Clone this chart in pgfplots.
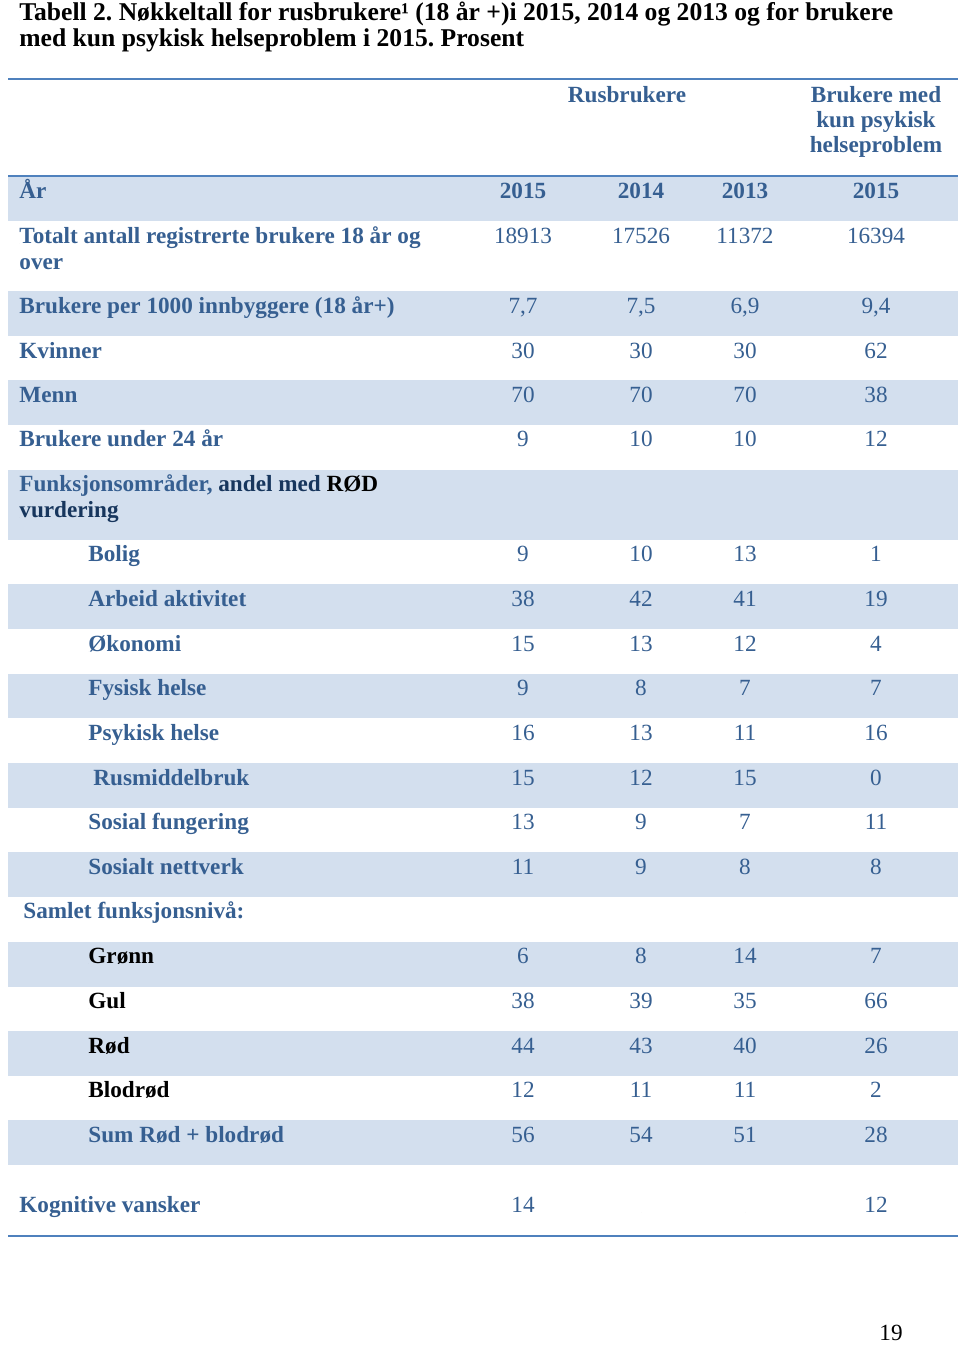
\documentclass[border=0pt]{standalone}
\usepackage{pgfplots}
\pgfplotsset{compat=1.18}
\usepackage{pgfplotstable}
\usepackage{fontspec}
\setmainfont{Liberation Serif}
\frenchspacing

\definecolor{lblue}{HTML}{365F91}
\definecolor{navy}{HTML}{17365D}
\definecolor{band}{HTML}{D3DFEE}
\definecolor{rule}{HTML}{4F81BD}

\newcommand\bodyfont{\fontsize{11.6}{14}\selectfont}
\newcommand\funkline{\textcolor{lblue}{Funksjonsområder,} andel med \textcolor{black}{RØD}}

% pixel-like layout units: x 0..960, y 0..1345 (downwards)
\pgfplotstableread[col sep=semicolon]{
y;a;b;c;d
243;18913;17526;11372;16394
313;7,7;7,5;6,9;9,4
358;30;30;30;62
402;70;70;70;38
446;9;10;10;12
561;9;10;13;1
606;38;42;41;19
651;15;13;12;4
695;9;8;7;7
740;16;13;11;16
785;15;12;15;0
829;13;9;7;11
874;11;9;8;8
963;6;8;14;7
1008;38;39;35;66
1053;44;43;40;26
1097;12;11;11;2
1142;56;54;51;28
1212;14;;;12
}\values

\pgfplotstableread[col sep=semicolon]{
x;y;t
19;198;År
19;243;Totalt antall registrerte brukere 18 år og
19;269;over
19;313;Brukere per 1000 innbyggere (18 år+)
19;358;Kvinner
19;402;Menn
19;446;Brukere under 24 år
88;561;Bolig
88;606;Arbeid aktivitet
88;651;Økonomi
88;695;Fysisk helse
88;740;Psykisk helse
93;785;Rusmiddelbruk
88;829;Sosial fungering
88;874;Sosialt nettverk
23;918;Samlet funksjonsnivå:
88;1142;Sum Rød + blodrød
19;1212;Kognitive vansker
}\labels

\pgfplotstableread[col sep=semicolon]{
x;y;t
19;491;\funkline
19;517;vurdering
}\funklabels

\pgfplotstableread[col sep=semicolon]{
x;y;t
88;963;Grønn
88;1008;Gul
88;1053;Rød
88;1097;Blodrød
}\levels

\pgfplotstableread[col sep=semicolon]{
x;y;t
627;102;Rusbrukere
876;102;Brukere med
876;127;kun psykisk
876;152;helseproblem
523;198;2015
641;198;2014
745;198;2013
876;198;2015
}\heads

\pgfplotstableread[col sep=semicolon]{
x;y;t
19;20;Tabell 2. Nøkkeltall for rusbrukere¹ (18 år +)i 2015, 2014 og 2013 og for brukere
19;46;med kun psykisk helseproblem i 2015. Prosent
}\titlelines

\begin{document}
\begin{tikzpicture}
\begin{axis}[
  width=480pt, height=672.5pt, scale only axis,
  xmin=0, xmax=960, ymin=0, ymax=1345, y dir=reverse,
  hide axis, clip=false,
  txt/.style={only marks, mark=*, mark size=0pt, mark options={draw=none, fill=none},
    nodes near coords, point meta=explicit symbolic},
]
\addplot[draw=none] coordinates {(0,0) (960,1345)};

% shaded rows
\addplot[fill=band, draw=none] coordinates {(8,177)(958,177)(958,221)(8,221)} -- cycle;
\addplot[fill=band, draw=none] coordinates {(8,291)(958,291)(958,336)(8,336)} -- cycle;
\addplot[fill=band, draw=none] coordinates {(8,380)(958,380)(958,425)(8,425)} -- cycle;
\addplot[fill=band, draw=none] coordinates {(8,470)(958,470)(958,540)(8,540)} -- cycle;
\addplot[fill=band, draw=none] coordinates {(8,584)(958,584)(958,629)(8,629)} -- cycle;
\addplot[fill=band, draw=none] coordinates {(8,674)(958,674)(958,718)(8,718)} -- cycle;
\addplot[fill=band, draw=none] coordinates {(8,763)(958,763)(958,808)(8,808)} -- cycle;
\addplot[fill=band, draw=none] coordinates {(8,852)(958,852)(958,897)(8,897)} -- cycle;
\addplot[fill=band, draw=none] coordinates {(8,942)(958,942)(958,987)(8,987)} -- cycle;
\addplot[fill=band, draw=none] coordinates {(8,1031)(958,1031)(958,1076)(8,1076)} -- cycle;
\addplot[fill=band, draw=none] coordinates {(8,1120)(958,1120)(958,1165)(8,1165)} -- cycle;

% rules
\addplot[rule, line width=1.3pt] coordinates {(8,79)(958,79)};
\addplot[rule, line width=0.6pt] coordinates {(8,176)(958,176)};
\addplot[rule, line width=1.3pt] coordinates {(8,1236)(958,1236)};

% text
\addplot[txt, nodes near coords style={anchor=base west, inner sep=0pt, text=black, font=\fontsize{12.8}{15}\selectfont\bfseries}]
  table[x=x, y=y, meta=t] {\titlelines};
\addplot[txt, nodes near coords style={anchor=base, inner sep=0pt, text=lblue, font=\bodyfont\bfseries}]
  table[x=x, y=y, meta=t] {\heads};
\addplot[txt, nodes near coords style={anchor=base west, inner sep=0pt, text=lblue, font=\bodyfont\bfseries}]
  table[x=x, y=y, meta=t] {\labels};
\addplot[txt, nodes near coords style={anchor=base west, inner sep=0pt, text=navy, font=\bodyfont\bfseries}]
  table[x=x, y=y, meta=t] {\funklabels};
\addplot[txt, nodes near coords style={anchor=base west, inner sep=0pt, text=black, font=\bodyfont\bfseries}]
  table[x=x, y=y, meta=t] {\levels};

\pgfplotsset{num/.style={txt, nodes near coords style={anchor=base, inner sep=0pt, text=lblue, font=\bodyfont}}}
\addplot[num] table[x expr=523, y=y, meta=a] {\values};
\addplot[num] table[x expr=641, y=y, meta=b] {\values};
\addplot[num] table[x expr=745, y=y, meta=c] {\values};
\addplot[num] table[x expr=876, y=y, meta=d] {\values};

\addplot[txt, nodes near coords style={anchor=base, inner sep=0pt, text=black, font=\bodyfont}]
  coordinates {(891,1340)[19]};
\end{axis}
\end{tikzpicture}
\end{document}
